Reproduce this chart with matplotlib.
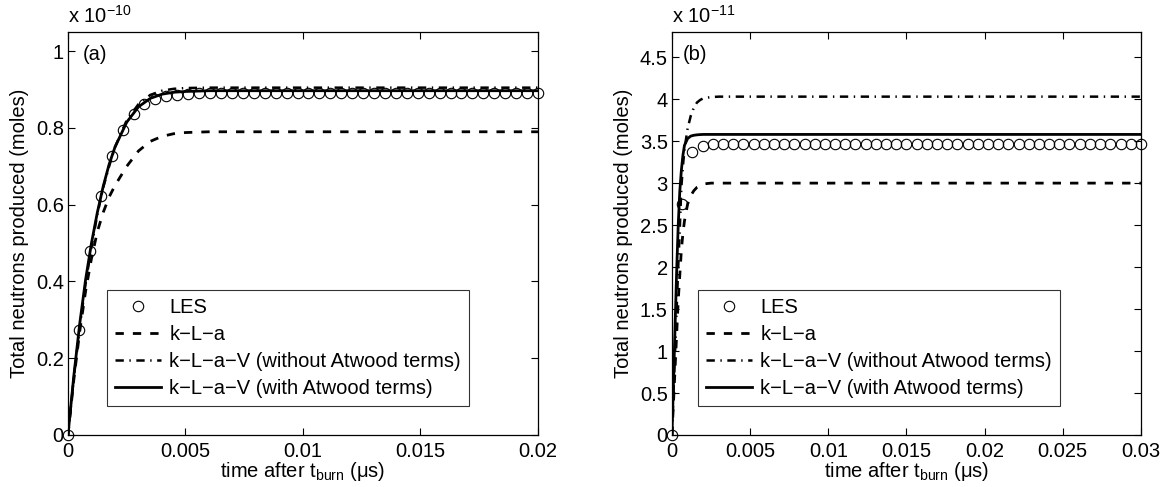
import matplotlib
matplotlib.use("Agg")
import matplotlib.pyplot as plt

plt.rcParams['font.family'] = ['Liberation Sans', 'DejaVu Sans']
plt.rcParams['mathtext.fontset'] = 'custom'
plt.rcParams['mathtext.rm'] = 'Liberation Sans'
plt.rcParams['mathtext.it'] = 'Liberation Sans:italic'
plt.rcParams['lines.scale_dashes'] = False

# ---- panel (a) data, y in units of 1e-10 moles ----
les_t_a = [0, 0.000465, 0.00093, 0.001395, 0.00186, 0.002326, 0.002791, 0.003256,
           0.003721, 0.004186, 0.004651, 0.005116, 0.005581, 0.006047, 0.006512,
           0.006977, 0.007442, 0.007907, 0.008372, 0.008837, 0.009302, 0.009767,
           0.010233, 0.010698, 0.011163, 0.011628, 0.012093, 0.012558, 0.013023,
           0.013488, 0.013953, 0.014419, 0.014884, 0.015349, 0.015814, 0.016279,
           0.016744, 0.017209, 0.017674, 0.01814, 0.018605, 0.01907, 0.019535, 0.02]
les_y_a = [0, 0.273, 0.479, 0.623, 0.728, 0.794, 0.836, 0.862, 0.875, 0.883, 0.887,
           0.889, 0.89, 0.89, 0.89, 0.89, 0.89, 0.89, 0.89, 0.89, 0.89, 0.89, 0.89,
           0.89, 0.89, 0.89, 0.89, 0.89, 0.89, 0.89, 0.89, 0.89, 0.89, 0.89, 0.89,
           0.89, 0.89, 0.89, 0.89, 0.89, 0.89, 0.89, 0.89, 0.89]

model_t_a = [0, 0.00025, 0.0005, 0.00075, 0.001, 0.00125, 0.0015, 0.00175, 0.002,
             0.0025, 0.003, 0.0035, 0.004, 0.0045, 0.005, 0.006, 0.008, 0.02]
kla_a = [0, 0.145, 0.27, 0.375, 0.46, 0.53, 0.58, 0.62, 0.65, 0.70, 0.74, 0.765,
         0.778, 0.785, 0.788, 0.79, 0.79, 0.79]
klav_noat_a = [0, 0.15, 0.28, 0.395, 0.49, 0.575, 0.645, 0.70, 0.75, 0.82, 0.862,
               0.886, 0.897, 0.902, 0.904, 0.905, 0.905, 0.905]
klav_at_a = [0, 0.155, 0.29, 0.405, 0.50, 0.58, 0.648, 0.705, 0.75, 0.815, 0.855,
             0.877, 0.888, 0.893, 0.895, 0.897, 0.897, 0.897]

# ---- panel (b) data, y in units of 1e-11 moles ----
les_t_b = [0, 0.00065, 0.0013, 0.00196, 0.00261, 0.00326, 0.00391, 0.00457, 0.00522,
           0.00587, 0.00652, 0.00717, 0.00783, 0.00848, 0.00913, 0.00978, 0.01043,
           0.01109, 0.01174, 0.01239, 0.01304, 0.0137, 0.01435, 0.015, 0.01565,
           0.0163, 0.01696, 0.01761, 0.01826, 0.01891, 0.01957, 0.02022, 0.02087,
           0.02152, 0.02217, 0.02283, 0.02348, 0.02413, 0.02478, 0.02543, 0.02609,
           0.02674, 0.02739, 0.02804, 0.0287, 0.02935, 0.03]
les_y_b = [0, 2.75, 3.37, 3.44, 3.46, 3.46, 3.46, 3.46, 3.46, 3.46, 3.46, 3.46, 3.46,
           3.46, 3.46, 3.46, 3.46, 3.46, 3.46, 3.46, 3.46, 3.46, 3.46, 3.46, 3.46,
           3.46, 3.46, 3.46, 3.46, 3.46, 3.46, 3.46, 3.46, 3.46, 3.46, 3.46, 3.46,
           3.46, 3.46, 3.46, 3.46, 3.46, 3.46, 3.46, 3.46, 3.46, 3.46]

model_t_b = [0, 0.0001, 0.0002, 0.0003, 0.0004, 0.0005, 0.0006, 0.0007, 0.0008,
             0.001, 0.0012, 0.0014, 0.0016, 0.0018, 0.002, 0.0025, 0.003, 0.03]
kla_b = [0, 0.4, 0.8, 1.2, 1.6, 1.9, 2.2, 2.4, 2.55, 2.75, 2.85, 2.91, 2.95, 2.97,
         2.99, 3.0, 3.0, 3.0]
klav_noat_b = [0, 0.5, 1.0, 1.5, 2.0, 2.45, 2.95, 3.2, 3.4, 3.65, 3.8, 3.9, 3.96,
               3.99, 4.01, 4.025, 4.03, 4.03]
klav_at_b = [0, 0.65, 1.3, 1.95, 2.5, 2.9, 3.15, 3.33, 3.45, 3.53, 3.56, 3.57, 3.575,
             3.578, 3.58, 3.58, 3.58, 3.58]

labels = ['LES', 'k\u2212L\u2212a', 'k\u2212L\u2212a\u2212V (without Atwood terms)',
          'k\u2212L\u2212a\u2212V (with Atwood terms)']

FS = 14.5


def draw_panel(ax, les_t, les_y, mt, kla, noat, at, xmax, ymax, yticks, xticks,
               mult, tag, leg_x, tag_x):
    ax.plot(les_t, les_y, 'o', color='black', mfc='none', ms=7.5, mew=0.8,
            clip_on=False, zorder=4, label=labels[0])
    ax.plot(mt, kla, color='black', lw=2.0, dashes=(6, 6.5), label=labels[1])
    ax.plot(mt, noat, color='black', lw=1.8, dashes=(6, 4, 1, 4), label=labels[2])
    ax.plot(mt, at, color='black', lw=2.0, label=labels[3])
    ax.set_xlim(0, xmax)
    ax.set_ylim(0, ymax)
    ax.set_xticks(xticks)
    ax.set_yticks(yticks)
    ax.set_xticklabels(['%g' % v for v in xticks])
    ax.set_yticklabels(['%g' % v for v in yticks])
    ax.tick_params(direction='in', top=True, right=True, length=5, width=0.8,
                   labelsize=FS)
    ax.tick_params(axis='x', pad=5)
    ax.tick_params(axis='y', pad=3)
    for s in ax.spines.values():
        s.set_linewidth(0.9)
    ax.set_xlabel('time after t$_{\\mathrm{burn}}$ (\u03bcs)', fontsize=FS, labelpad=-1)
    ax.set_ylabel('Total neutrons produced (moles)', fontsize=FS, labelpad=5)
    ax.text(0.0, 1.012, 'x 10$^{%d}$' % mult, transform=ax.transAxes,
            ha='left', va='bottom', fontsize=FS)
    ax.text(tag_x, 0.945, tag, transform=ax.transAxes, ha='left', va='center',
            fontsize=FS)
    leg = ax.legend(loc='lower left', bbox_to_anchor=(leg_x, 0.072), fontsize=FS,
                    frameon=True, fancybox=False, edgecolor='black',
                    numpoints=1, handlelength=2.3, borderpad=0.4,
                    labelspacing=0.4, handletextpad=0.4, borderaxespad=0)
    leg.get_frame().set_linewidth(0.8)


fig = plt.figure(figsize=(11.66, 4.87), dpi=100)
ax1 = fig.add_axes([0.0583, 0.1068, 0.4031, 0.8275])
ax2 = fig.add_axes([0.5763, 0.1068, 0.4022, 0.8275])

draw_panel(ax1, les_t_a, les_y_a, model_t_a, kla_a, klav_noat_a, klav_at_a,
           0.02, 1.05, [0, 0.2, 0.4, 0.6, 0.8, 1],
           [0, 0.005, 0.01, 0.015, 0.02], -10, '(a)', 0.083, 0.032)
draw_panel(ax2, les_t_b, les_y_b, model_t_b, kla_b, klav_noat_b, klav_at_b,
           0.03, 4.8, [0, 0.5, 1, 1.5, 2, 2.5, 3, 3.5, 4, 4.5],
           [0, 0.005, 0.01, 0.015, 0.02, 0.025, 0.03], -11, '(b)', 0.055, 0.023)

fig.savefig('out.png', dpi=100)
